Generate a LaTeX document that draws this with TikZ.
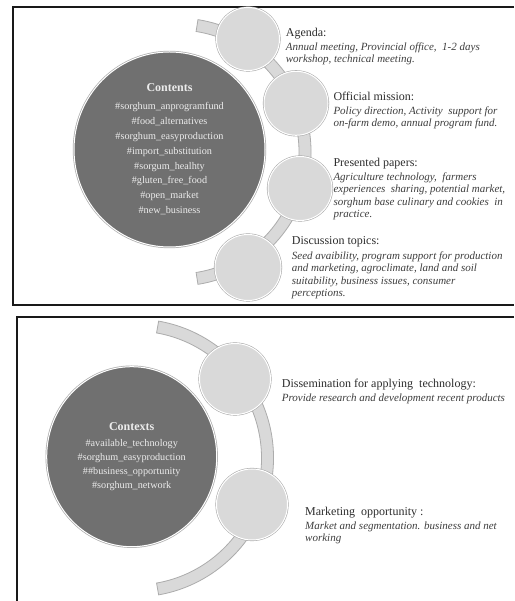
\documentclass[tikz,border=0pt]{standalone}
\usepackage{fontspec}
\setmainfont{Liberation Serif}
\usetikzlibrary{positioning,shapes.geometric}

\definecolor{discColor}{RGB}{112,112,112}
\definecolor{bubbleColor}{RGB}{217,217,217}
\definecolor{rimColor}{RGB}{172,172,172}
\definecolor{headColor}{RGB}{45,45,45}
\definecolor{textColor}{RGB}{62,62,62}
\definecolor{tagColor}{RGB}{236,236,236}
\definecolor{frameColor}{RGB}{25,25,25}

\tikzset{
  bigdisc/.style={ellipse, fill=discColor, draw=white, line width=1pt,
    preaction={draw=rimColor, line width=2.4pt}, inner sep=0pt},
  tags/.style={align=center, inner sep=0pt, text=tagColor,
    font=\fontsize{10.2}{14.9}\selectfont},
  bubble/.style={circle, fill=bubbleColor, draw=white, line width=1pt,
    preaction={draw=rimColor, line width=2.2pt}, inner sep=0pt},
  band/.style={fill=bubbleColor, draw=rimColor, line width=0.8pt},
  heading/.style={anchor=base west, inner sep=0pt, text=headColor,
    font=\fontsize{12}{14}\selectfont},
  detail/.style={anchor=north west, inner sep=0pt, align=left, text=textColor,
    font=\fontsize{11}{12.5}\selectfont\itshape},
  frame/.style={draw=frameColor, line width=2pt}
}

\begin{document}
\begin{tikzpicture}[x=1pt,y=1pt]
\path[use as bounding box,fill=white] (0,0) rectangle (514,601);

% upper panel
\draw[frame] (514,593.7) -- (12.7,593.7) -- (12.7,296) -- (514,296);

\begin{scope}[shift={(177,449)}]
\path[band] (81:134) arc[start angle=81, end angle=-81, radius=134]
  -- (-81:122) arc[start angle=-81, end angle=81, radius=122] -- cycle;
\end{scope}

\node[bubble, minimum size=63pt] (agendadot) at (248,562) {};
\node[bubble, minimum size=64pt] (missiondot) at (296,497.7) {};
\node[bubble, minimum size=64pt] (papersdot) at (300,412.5) {};
\node[bubble, minimum size=66pt] (topicsdot) at (248,333.5) {};

\node[bigdisc, minimum width=191pt, minimum height=195pt] (contents) at (169.5,451.5) {};
\node[tags] (contentstags) at (contents.center) {{\fontsize{12}{14}\selectfont\bfseries Contents}\\[2.6pt]
  \#sorghum\_anprogramfund\\
  \#food\_alternatives\\
  \#sorghum\_easyproduction\\
  \#import\_substitution\\
  \#sorgum\_healhty\\
  \#gluten\_free\_food\\
  \#open\_market\\
  \#new\_business};

\node[heading] (agenda) at (285.7,564.3) {Agenda:};
\node[detail, below=5.5pt of agenda.base west, anchor=north west] (agendatext)
  {Annual meeting, Provincial office,~ 1-2 days\\workshop, technical meeting.};

\node[heading] (mission) at (333.3,500.3) {Official mission:};
\node[detail, below=5.5pt of mission.base west, anchor=north west] (missiontext)
  {Policy direction, Activity~ support for\\on-farm demo, annual program fund.};

\node[heading] (papers) at (333.3,434.3) {Presented papers:};
\node[detail, below=5.5pt of papers.base west, anchor=north west] (paperstext)
  {Agriculture technology,~ farmers\\experiences~ sharing, potential market,\\sorghum base culinary and cookies~ in\\practice.};

\node[heading] (topics) at (291.7,356.3) {Discussion topics:};
\node[detail, below=6.5pt of topics.base west, anchor=north west] (topicstext)
  {Seed avaibility, program support for production\\and marketing, agroclimate, land and soil\\suitability, business issues, consumer\\perceptions.};

% lower panel
\draw[frame] (514,284.3) -- (16.7,284.3) -- (16.7,0);

\begin{scope}[shift={(134.5,143)}]
\path[band] (80:139) arc[start angle=80, end angle=-80, radius=139]
  -- (-80:127) arc[start angle=-80, end angle=80, radius=127] -- cycle;
\end{scope}

\node[bubble, minimum size=71pt] (applydot) at (235,222) {};
\node[bubble, minimum size=71pt] (marketdot) at (252,96.5) {};

\node[bigdisc, minimum width=170pt, minimum height=180pt] (contexts) at (131.7,144.3) {};
\node[tags, font=\fontsize{10.2}{14}\selectfont] (contextstags) at (contexts.center)
  {{\fontsize{12}{14}\selectfont\bfseries Contexts}\\[2.6pt]
  \#available\_technology\\
  \#sorghum\_easyproduction\\
  \#\#business\_opportunity\\
  \#sorghum\_network};

\node[heading] (apply) at (281.7,213) {Dissemination for applying~ technology:};
\node[detail, below=5.5pt of apply.base west, anchor=north west] (applytext)
  {Provide research and development recent products};

\node[heading] (market) at (305,85.3) {Marketing~ opportunity :};
\node[detail, below=5.5pt of market.base west, anchor=north west] (markettext)
  {Market and segmentation. business and net\\working};
\end{tikzpicture}
\end{document}
